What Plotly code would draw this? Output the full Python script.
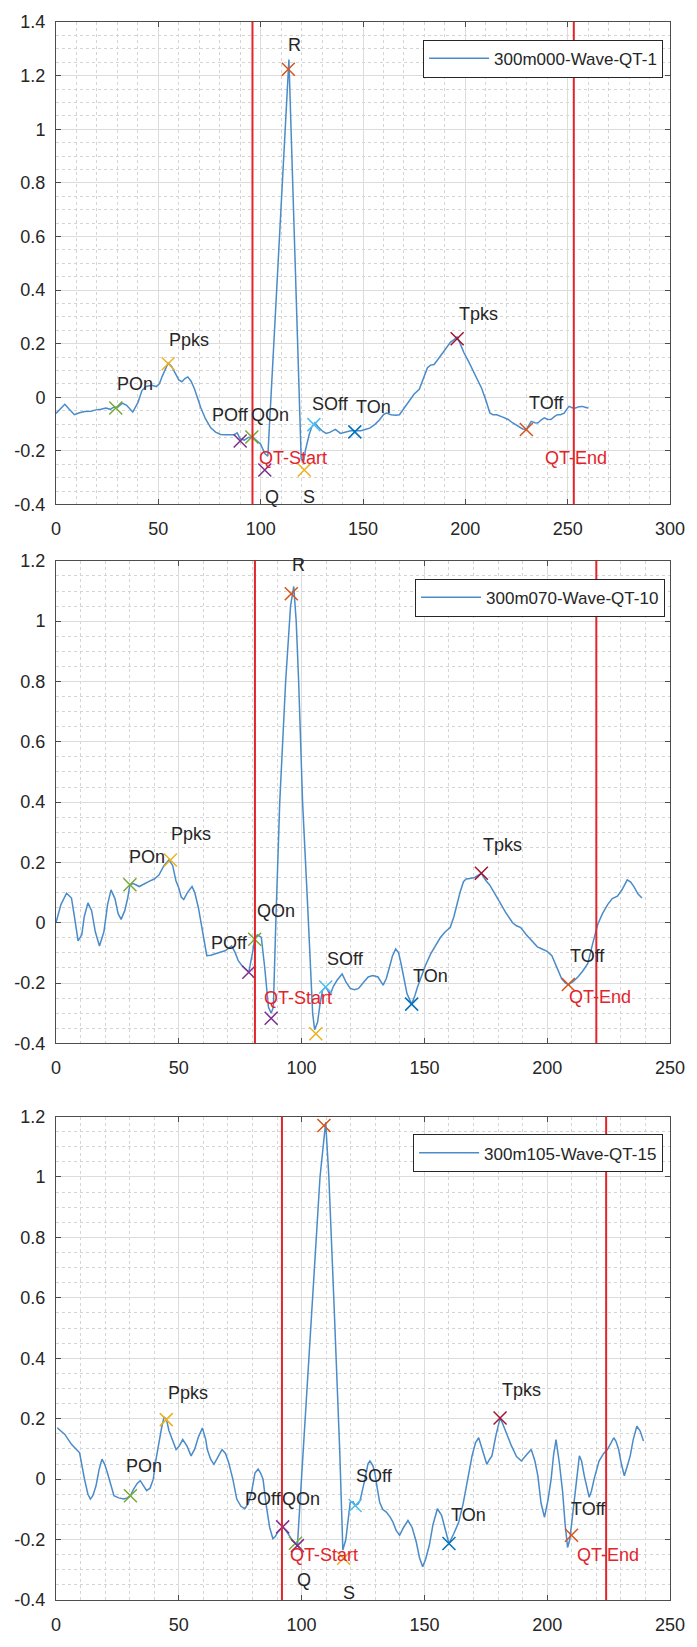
import plotly.graph_objects as go

# ---------------- data ----------------
# Record 1: 300m000-Wave-QT-1
rec1_name = "300m000-Wave-QT-1"
rec1_x = [0, 2, 4.3, 6.5, 9, 11.5, 14, 17, 19.5, 22, 24.4, 26.5, 28.4, 30, 32.4, 34.5, 36.4, 37.5,
          40, 42, 44, 46.8, 49, 50.5, 52, 54.8, 56.5, 58, 60, 61.5, 63, 64.4, 66, 67.6, 69, 70.8,
          73, 75.6, 78, 80.4, 83, 85.3, 87, 88.5, 90, 92, 94, 96, 98, 100, 102, 103.5, 113.8,
          119.8, 121, 121.8, 123.7, 125, 126.5, 128, 130, 132, 134, 136.5, 139, 142, 144, 146,
          149, 151, 153.3, 156, 158, 160, 161.4, 163.7, 166, 167.8, 170, 171.5, 173, 175, 177.5,
          179.5, 181.5, 183, 184.7, 186.5, 188.7, 190.5, 192.7, 194.5, 196, 197.5, 199.2, 201.5,
          204, 206, 208, 210, 212, 213.5, 215.3, 218, 220.9, 223, 225.7, 228, 229.8, 231, 232.2,
          234, 235.4, 237, 238.6, 240, 241.8, 243.5, 245, 246.5, 248.3, 249.5, 250.7, 252.5,
          253.9, 255.5, 257.1, 258.5, 260]
rec1_y = [-0.06, -0.045, -0.026, -0.045, -0.065, -0.058, -0.053, -0.052, -0.047, -0.045, -0.04,
          -0.045, -0.036, -0.038, -0.022, -0.03, -0.045, -0.055, -0.02, 0.025, 0.04, 0.045, 0.04,
          0.05, 0.08, 0.128, 0.115, 0.094, 0.065, 0.058, 0.07, 0.076, 0.06, 0.033, 0.0, -0.04,
          -0.08, -0.114, -0.13, -0.139, -0.14, -0.139, -0.14, -0.133, -0.155, -0.16, -0.15,
          -0.148, -0.16, -0.175, -0.21, -0.22, 1.26, -0.23, -0.24, -0.2, -0.139, -0.11, -0.095,
          -0.11, -0.125, -0.135, -0.13, -0.12, -0.135, -0.13, -0.125, -0.125, -0.125, -0.12,
          -0.115, -0.1, -0.085, -0.065, -0.059, -0.065, -0.067, -0.065, -0.04, -0.025, -0.01,
          0.012, 0.03, 0.07, 0.11, 0.12, 0.122, 0.14, 0.162, 0.18, 0.205, 0.215, 0.225, 0.2,
          0.168, 0.135, 0.095, 0.065, 0.033, -0.01, -0.059, -0.065, -0.065, -0.073, -0.083,
          -0.095, -0.108, -0.118, -0.12, -0.105, -0.09, -0.095, -0.096, -0.085, -0.077, -0.082,
          -0.083, -0.072, -0.065, -0.065, -0.059, -0.045, -0.034, -0.04, -0.04, -0.035, -0.034,
          -0.037, -0.04]
rec1_qt = [96, 253]

# Record 2: 300m070-Wave-QT-10
rec2_name = "300m070-Wave-QT-10"
rec2_x = [0, 2, 4.3, 6.3, 7.5, 9, 10.5, 11.5, 13, 14.5, 16, 17.7, 19.5, 21, 22.4, 24, 25.3, 26.5,
          28, 29.2, 30.1, 31.5, 33.9, 36, 37.9, 40, 41.9, 44, 46, 47.5, 48.8, 50, 51, 52, 53.5,
          55.4, 56.5, 58, 59.5, 60.5, 61.4, 63, 64.8, 66.5, 68.8, 70.3, 71.5, 73, 74.2, 76, 78.5,
          80, 80.9, 82, 83.6, 85, 86.5, 87.6, 88.5, 89.5, 91.1, 93.5, 95.5, 96.8, 97.8, 98.8,
          100.4, 102.5, 104.5, 105.3, 106.5, 107.5, 108.5, 109.8, 111, 111.8, 113, 114.5, 116.5,
          118, 119.8, 121.5, 123.2, 125, 127.1, 129, 131.1, 133.2, 134.5, 135.8, 137, 138.3,
          139.5, 140.5, 141.7, 142.9, 144.8, 146, 147.2, 149, 150.5, 152.5, 154.5, 156.5, 158.5,
          160.5, 162, 163.2, 164.5, 165.9, 167, 168.5, 170.5, 173.2, 175, 176.5, 178.5, 180.5,
          183, 185.9, 187.5, 189.2, 191.5, 193.9, 196, 197.9, 200, 201.9, 204, 205.9, 207.5,
          208.6, 210.5, 212.5, 214.5, 216.5, 218.5, 220.6, 222.5, 224.6, 226.5, 228.6, 230.5,
          232.6, 234, 235.3, 237, 238.6]
rec2_y = [0.0, 0.06, 0.098, 0.082, 0.02, -0.06, -0.04, 0.02, 0.066, 0.04, -0.03, -0.077, -0.03,
          0.06, 0.109, 0.08, 0.03, 0.011, 0.04, 0.082, 0.126, 0.13, 0.12, 0.13, 0.137, 0.145,
          0.158, 0.19, 0.208, 0.19, 0.14, 0.115, 0.085, 0.077, 0.1, 0.12, 0.1, 0.049, -0.02,
          -0.08, -0.109, -0.108, -0.104, -0.1, -0.093, -0.085, -0.077, -0.1, -0.126, -0.145,
          -0.164, -0.1, -0.055, -0.04, -0.049, -0.15, -0.28, -0.3, -0.28, 0.0, 0.4, 0.8, 1.05,
          1.115, 1.0, 0.8, 0.4, 0.05, -0.3, -0.355, -0.33, -0.27, -0.224, -0.213, -0.23, -0.235,
          -0.21, -0.19, -0.17, -0.195, -0.218, -0.222, -0.218, -0.2, -0.18, -0.175, -0.18,
          -0.207, -0.185, -0.147, -0.11, -0.087, -0.1, -0.136, -0.19, -0.235, -0.27, -0.245,
          -0.213, -0.17, -0.14, -0.104, -0.075, -0.049, -0.03, -0.016, 0.02, 0.06, 0.1, 0.136,
          0.145, 0.147, 0.15, 0.164, 0.14, 0.126, 0.1, 0.071, 0.035, 0.0, -0.01, -0.016, -0.04,
          -0.06, -0.08, -0.087, -0.095, -0.109, -0.15, -0.186, -0.2, -0.205, -0.195, -0.18,
          -0.16, -0.136, -0.07, -0.005, 0.03, 0.06, 0.08, 0.088, 0.11, 0.142, 0.135, 0.12,
          0.095, 0.082]
rec2_qt = [81, 220]

# Record 3: 300m105-Wave-QT-15
rec3_name = "300m105-Wave-QT-15"
rec3_x = [0.5, 3.6, 6.3, 8, 9.6, 11.6, 13, 14, 15, 16.3, 17.5, 18.7, 19.8, 20.9, 22.3, 23.6, 25.5,
          27.6, 29, 30.3, 31.6, 33, 34.3, 35.6, 36.9, 38.3, 39.6, 40.6, 41.6, 43, 44, 44.9, 46,
          47.6, 48.9, 50.2, 51.6, 53.3, 55, 56.5, 58, 59.6, 61, 61.6, 63, 64.3, 66, 67.6, 69,
          70.3, 72, 73.6, 75.3, 76.9, 78.3, 79.6, 81, 82.3, 83.3, 84.3, 85.6, 87, 88.3, 89.3,
          90.3, 92.3, 93.6, 94.9, 96.5, 98.3, 104.4, 107.5, 109.8, 111.1, 113.1, 115.5, 116.8,
          118, 119.8, 121, 121.8, 123, 123.8, 125, 125.8, 127, 127.8, 129, 129.8, 130.8, 131.8,
          133, 134.5, 136, 137.2, 138.5, 139.9, 141.5, 143.3, 145, 146.7, 148, 149.3, 150.5,
          152, 153.5, 155.3, 157, 158.7, 160, 162, 164, 165.8, 167.4, 168.5, 169.4, 170.8,
          172.1, 173.5, 175.4, 176.5, 177.5, 179, 180.2, 180.8, 181.8, 182.8, 184, 185.5, 187.5,
          189.5, 191.5, 193.5, 195, 196.2, 197.5, 198.9, 200.3, 201.6, 202.6, 203.6, 205, 206.3,
          207.3, 208.3, 209.2, 210.5, 211.7, 213.1, 214, 215.1, 217.1, 218, 219.1, 221.1, 223,
          224.5, 226, 227.1, 228, 229.1, 230.2, 231.4, 232.5, 233.8, 235, 236.5, 237.8, 239.2]
rec3_y = [0.17, 0.148, 0.115, 0.1, 0.087, 0.0, -0.05, -0.066, -0.055, -0.022, 0.03, 0.066, 0.05,
          0.022, -0.02, -0.055, -0.062, -0.066, -0.062, -0.055, -0.033, -0.015, -0.005, -0.02,
          -0.038, -0.03, 0.0, 0.06, 0.109, 0.17, 0.205, 0.2, 0.16, 0.126, 0.098, 0.11, 0.131,
          0.11, 0.077, 0.1, 0.14, 0.169, 0.13, 0.098, 0.065, 0.049, 0.075, 0.098, 0.085, 0.055,
          0.0, -0.066, -0.09, -0.098, -0.08, -0.044, 0.02, 0.033, 0.02, 0.0, -0.087, -0.16,
          -0.197, -0.19, -0.175, -0.158, -0.17, -0.186, -0.205, -0.219, 0.6, 1.0, 1.181, 1.0,
          0.6, 0.1, -0.235, -0.2, -0.077, -0.075, -0.087, -0.082, -0.071, -0.03, 0.0, 0.05,
          0.06, 0.045, 0.022, -0.03, -0.077, -0.1, -0.109, -0.125, -0.142, -0.17, -0.186, -0.16,
          -0.137, -0.16, -0.208, -0.26, -0.29, -0.265, -0.219, -0.15, -0.098, -0.12, -0.175,
          -0.213, -0.18, -0.142, -0.08, -0.011, 0.04, 0.077, 0.12, 0.137, 0.1, 0.049, 0.065,
          0.077, 0.14, 0.186, 0.202, 0.185, 0.164, 0.135, 0.109, 0.075, 0.06, 0.08, 0.098, 0.06,
          0.011, -0.08, -0.126, -0.07, 0.0, 0.08, 0.131, 0.05, -0.044, -0.15, -0.226, -0.2,
          -0.1, -0.022, 0.077, 0.06, 0.011, -0.06, -0.04, 0.0, 0.06, 0.085, 0.098, 0.12, 0.137,
          0.125, 0.098, 0.05, 0.011, 0.04, 0.077, 0.13, 0.175, 0.16, 0.126]
rec3_qt = [92, 224]

# Fiducial points (same order in every record)
fid_names = ["POn", "Ppks", "POff", "QOn", "Q", "R", "S", "SOff", "TOn", "Tpks", "TOff"]
rec1_fx = [29.2, 54.8, 90, 95.7, 102, 113.5, 121.3, 126, 146, 196, 229.8]
rec1_fy = [-0.04, 0.125, -0.163, -0.148, -0.271, 1.224, -0.271, -0.102, -0.129, 0.218, -0.12]
rec2_fx = [30.1, 46.6, 78.5, 80.9, 87.6, 95.8, 105.8, 109.8, 144.8, 173.2, 208.6]
rec2_fy = [0.126, 0.208, -0.164, -0.055, -0.317, 1.091, -0.368, -0.213, -0.27, 0.164, -0.205]
rec3_fx = [30.3, 44.9, 92.3, 97.5, 98.3, 109.1, 117.1, 121.8, 160, 180.8, 209.9]
rec3_fy = [-0.055, 0.197, -0.158, -0.212, -0.22, 1.17, -0.262, -0.087, -0.213, 0.202, -0.186]

# Label anchors (data coordinates) for fiducial names and QT markers
rec1_lx = [38.8, 65.2, 85.3, 104.5, 105.3, 116.7, 123.7, 134, 154.9, 206.4, 239.5]
rec1_ly = [0.048, 0.213, -0.065, -0.065, -0.372, 1.313, -0.372, -0.025, -0.038, 0.31, -0.022]
rec1_qtl = [(115.7, -0.225), (254, -0.225)]
rec2_lx = [37.2, 54.8, 70.8, 89.6, 91, 98.8, 108.5, 118, 152.5, 181.9, 216.6]
rec2_ly = [0.219, 0.295, -0.066, 0.038, -0.428, 1.186, -0.47, -0.119, -0.177, 0.257, -0.109]
rec2_qtl = [(98.4, -0.251), (221.3, -0.246)]
rec3_lx = [35.9, 53.6, 84.6, 99.8, 101, 111.8, 119.1, 129.8, 168, 189.4, 216.9]
rec3_ly = [0.044, 0.286, -0.066, -0.066, -0.333, 1.269, -0.377, 0.011, -0.12, 0.295, -0.098]
rec3_qtl = [(109, -0.251), (224.9, -0.251)]

# Axis ticks
x_ticks_300 = [0, 50, 100, 150, 200, 250, 300]
x_ticks_250 = [0, 50, 100, 150, 200, 250]
y_ticks_14 = [-0.4, -0.2, 0, 0.2, 0.4, 0.6, 0.8, 1, 1.2, 1.4]
y_ticks_12 = [-0.4, -0.2, 0, 0.2, 0.4, 0.6, 0.8, 1, 1.2]

# ---------------- styling ----------------
FONT = "Liberation Sans, Arial, sans-serif"
TXT = "#262626"
SIGNAL = "#4a8bc9"
QTRED = "#e3242b"
fid_colors = ["#77AC30", "#EDB120", "#7E2F8E", "#77AC30", "#7E2F8E", "#D95319",
              "#EDB120", "#4DBEEE", "#0072BD", "#A2142F", "#D95319"]


def tick_text(vals):
    # plain hyphen-minus labels, trailing zeros dropped
    return [f"{v:g}" for v in vals]


W, H = 697, 1647
ML, MR, MT, MB = 56, 19, 19, 32
plot_h = H - MT - MB
plot_w = W - ML - MR


def py(pix):
    """pixel row (from top) -> paper y"""
    return (H - MB - pix) / plot_h


def px(pix):
    return (pix - ML) / plot_w


panels = [
    dict(name=rec1_name, x=rec1_x, y=rec1_y, qt=rec1_qt, fx=rec1_fx, fy=rec1_fy,
         lx=rec1_lx, ly=rec1_ly, qtl=rec1_qtl, xr=[0, 300], xt=x_ticks_300,
         yr=[-0.4, 1.4], yt=y_ticks_14, top=19, bot=507, leg=(671, 37)),
    dict(name=rec2_name, x=rec2_x, y=rec2_y, qt=rec2_qt, fx=rec2_fx, fy=rec2_fy,
         lx=rec2_lx, ly=rec2_ly, qtl=rec2_qtl, xr=[0, 250], xt=x_ticks_250,
         yr=[-0.4, 1.2], yt=y_ticks_12, top=564, bot=1052, leg=(673, 582)),
    dict(name=rec3_name, x=rec3_x, y=rec3_y, qt=rec3_qt, fx=rec3_fx, fy=rec3_fy,
         lx=rec3_lx, ly=rec3_ly, qtl=rec3_qtl, xr=[0, 250], xt=x_ticks_250,
         yr=[-0.4, 1.2], yt=y_ticks_12, top=1126, bot=1615, leg=(671, 1144)),
]

fig = go.Figure()
layout = dict(
    width=W, height=H,
    margin=dict(l=ML, r=MR, t=MT, b=MB, pad=0),
    paper_bgcolor="white", plot_bgcolor="white",
    font=dict(family=FONT, color=TXT, size=17),
    showlegend=True,
)
annotations = []
shapes = []

for i, p in enumerate(panels, start=1):
    sfx = "" if i == 1 else str(i)
    xa, ya = "x" + sfx, "y" + sfx
    leg = "legend" + sfx

    fig.add_trace(go.Scatter(
        x=p["x"], y=p["y"], mode="lines", name=p["name"],
        line=dict(color=SIGNAL, width=1.5),
        xaxis=xa, yaxis=ya, legend=leg, showlegend=True,
    ))
    for k, nm in enumerate(fid_names):
        fig.add_trace(go.Scatter(
            x=[p["fx"][k]], y=[p["fy"][k]], mode="markers", name=nm,
            marker=dict(symbol="x-thin", size=13,
                        line=dict(color=fid_colors[k], width=1.5)),
            xaxis=xa, yaxis=ya, showlegend=False,
        ))
        annotations.append(dict(
            x=p["lx"][k], y=p["ly"][k], xref=xa, yref=ya, text=nm,
            showarrow=False, font=dict(size=18, color=TXT, family=FONT),
            xanchor="center", yanchor="middle",
        ))
    for (tx, ty), lab in zip(p["qtl"], ["QT-Start", "QT-End"]):
        annotations.append(dict(
            x=tx, y=ty, xref=xa, yref=ya, text=lab, showarrow=False,
            font=dict(size=18, color=QTRED, family=FONT),
            xanchor="center", yanchor="middle",
        ))
    for qx in p["qt"]:
        shapes.append(dict(
            type="line", xref=xa, yref=ya + " domain", x0=qx, x1=qx, y0=0, y1=1,
            line=dict(color=QTRED, width=2), layer="above",
        ))

    dom_y = [py(p["bot"]), py(p["top"])]
    axis_common = dict(
        showline=True, linecolor="#4d4d4d", linewidth=1, mirror="ticks",
        ticks="inside", ticklen=5, tickwidth=1, tickcolor="#4d4d4d",
        showgrid=True, gridcolor="#dcdcdc", gridwidth=1, zeroline=False,
        tickfont=dict(size=18, color=TXT, family=FONT),
    )
    layout["xaxis" + sfx] = dict(
        axis_common, domain=[0, 1], anchor=ya, range=p["xr"],
        tickmode="array", tickvals=p["xt"], ticktext=tick_text(p["xt"]),
        minor=dict(tickmode="linear", tick0=0, dtick=10, showgrid=True,
                   griddash="dot", gridcolor="#d4d4d4", ticks=""),
        ticklabelstandoff=8,
    )
    layout["yaxis" + sfx] = dict(
        axis_common, domain=dom_y, anchor=xa, range=p["yr"],
        tickmode="array", tickvals=p["yt"], ticktext=tick_text(p["yt"]),
        minor=dict(tickmode="linear", tick0=0, dtick=0.05, showgrid=True,
                   griddash="dot", gridcolor="#d4d4d4", ticks=""),
        ticklabelstandoff=6,
    )
    layout[leg] = dict(
        x=px(p["leg"][0]), y=py(p["leg"][1]), xref="paper", yref="paper",
        xanchor="right", yanchor="top",
        bgcolor="white", bordercolor="#262626", borderwidth=1,
        font=dict(size=17, color=TXT, family=FONT),
        itemwidth=60, tracegroupgap=0,
    )

layout["annotations"] = annotations
layout["shapes"] = shapes
fig.update_layout(**layout)

fig.write_html("out.html")
